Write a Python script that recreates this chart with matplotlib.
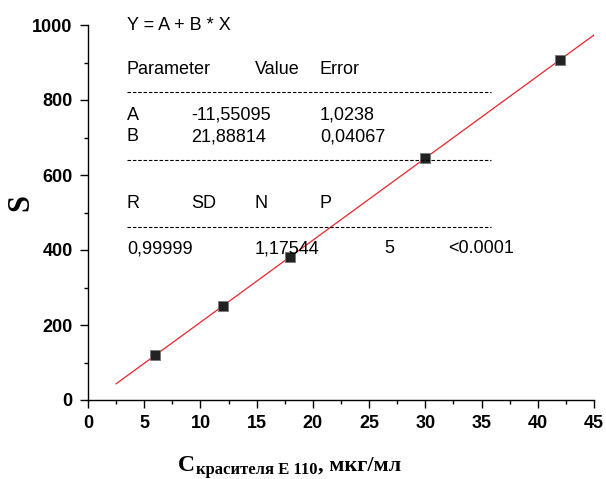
import matplotlib
matplotlib.use("Agg")
import matplotlib.pyplot as plt
from matplotlib.lines import Line2D
from matplotlib.ticker import MultipleLocator
import numpy as np

# data
conc = [6, 12, 18, 30, 42]
signal = [120, 251, 382, 645, 907]
A = -11.55095
B = 21.88814
fit_x = [2.5, 45]
x_ticks = [0, 5, 10, 15, 20, 25, 30, 35, 40, 45]
y_ticks = [0, 200, 400, 600, 800, 1000]

W, H = 606, 479
fig = plt.figure(figsize=(W / 100, H / 100), dpi=100)
ax = fig.add_axes([88 / W, 1 - 400 / H, (594 - 88) / W, (400 - 25) / H])

fx = np.array(fit_x)
ax.plot(fx, A + B * fx, color="#e8262b", lw=0.9, zorder=2)
ax.plot(conc, signal, ls="none", marker="s", ms=6.5, mfc="#222222",
        mec="#777777", mew=0.6, zorder=3)

ax.set_xlim(0, 45)
ax.set_ylim(0, 1000)
ax.set_xticks(x_ticks)
ax.set_yticks(y_ticks)
ax.xaxis.set_minor_locator(MultipleLocator(2.5))
ax.yaxis.set_minor_locator(MultipleLocator(100))
for s in ["top", "right"]:
    ax.spines[s].set_visible(False)
for s in ["left", "bottom"]:
    ax.spines[s].set_linewidth(1.0)
ax.tick_params(which="major", direction="out", length=6, width=1.0, pad=5)
ax.tick_params(which="minor", direction="out", length=3, width=1.0)
for lab in ax.get_xticklabels() + ax.get_yticklabels():
    lab.set_fontfamily("Liberation Sans")
    lab.set_fontweight("bold")
    lab.set_fontsize(13)

def ft(x, y, s, **kw):
    kw.setdefault("family", "Liberation Sans")
    kw.setdefault("fontsize", 13)
    kw.setdefault("va", "center")
    kw.setdefault("ha", "left")
    return fig.text(x / W, 1 - y / H, s, **kw)

ft(127, 25, "Y = A + B * X")
ft(127, 70, "Parameter")
ft(255, 70, "Value")
ft(320, 70, "Error")
ft(127, 115, "A")
ft(191, 115, "-11,55095")
ft(320, 115, "1,0238")
ft(127, 137, "B")
ft(191, 137, "21,88814")
ft(320, 137, "0,04067")
ft(127, 203, "R")
ft(191, 203, "SD")
ft(255, 203, "N")
ft(320, 203, "P")
ft(127, 249, "0,99999")
ft(255, 249, "1,17544")
ft(384, 249, "5")
ft(448, 249, "<0.0001")

for yy in [92, 160, 227]:
    fig.add_artist(Line2D([127 / W, 491 / W], [1 - yy / H, 1 - yy / H],
                          color="black", lw=0.8, ls=(0, (3.2, 1.6))))

# axis labels
fig.text(21 / W, 1 - 203 / H, "S", family="Liberation Serif", fontweight="bold",
         fontsize=22, rotation=90, ha="center", va="center")

fig.canvas.draw()
r = fig.canvas.get_renderer()
base = 1 - 471 / H
t1 = fig.text(178 / W, base, "C", family="Liberation Serif", fontweight="bold",
              fontsize=17, ha="left", va="baseline")
e1 = t1.get_window_extent(r)
t2 = fig.text((e1.x1 + 1) / W, base - 3 / H, "красителя Е 110", family="Liberation Serif",
              fontweight="bold", fontsize=12, ha="left", va="baseline")
e2 = t2.get_window_extent(r)
fig.text(e2.x1 / W, base, ", мкг/мл", family="Liberation Serif", fontweight="bold",
         fontsize=16, ha="left", va="baseline")

fig.savefig("out.png", dpi=100)
